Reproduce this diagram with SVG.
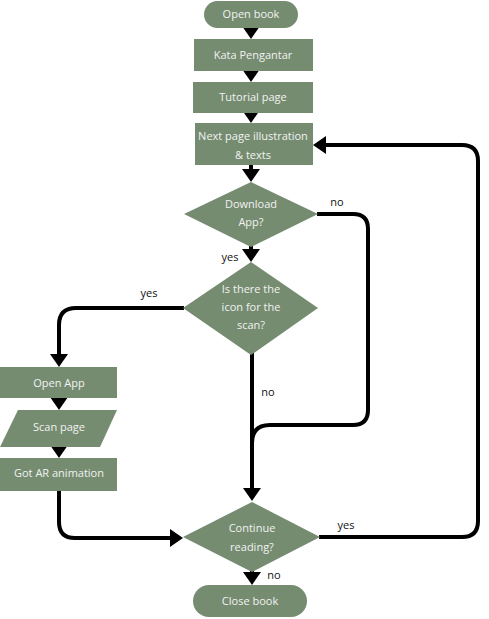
<svg xmlns="http://www.w3.org/2000/svg" width="489" height="619" viewBox="0 0 489 619">
<style>
.n{fill:#758c70}
.t{fill:#f2f2f2;font-family:"Open Sans","Liberation Sans",sans-serif;font-size:11px;text-anchor:middle}
.l{fill:#111;font-family:"Open Sans","Liberation Sans",sans-serif;font-size:11px;text-anchor:middle}
.c{fill:none;stroke:#000;stroke-width:4}
</style>
<defs>
<marker id="a" viewBox="0 0 13 18" markerWidth="13" markerHeight="18" refX="1" refY="9" orient="auto" markerUnits="userSpaceOnUse">
<path d="M0,0 L13,9 L0,18 z" fill="#000"/>
</marker>
</defs>
<rect width="489" height="619" fill="#fff"/>
<g id="connectors">
<path class="c" d="M251,20 V27" marker-end="url(#a)"/>
<path class="c" d="M251,62 V70" marker-end="url(#a)"/>
<path class="c" d="M251,104 V111" marker-end="url(#a)"/>
<path class="c" d="M251,160 V170" marker-end="url(#a)"/>
<path class="c" d="M251,240 V250" marker-end="url(#a)"/>
<path class="c" d="M252,350 V489" marker-end="url(#a)"/>
<path class="c" d="M252,565 V573" marker-end="url(#a)"/>
<path class="c" d="M317,214 H353 Q368,214 368,229 V410 Q368,425 353,425 H270 Q252,425 252,443"/>
<path class="c" d="M184,308 H76 Q59,308 59,325 V355" marker-end="url(#a)"/>
<path class="c" d="M59,390 V398" marker-end="url(#a)"/>
<path class="c" d="M59,440 V446" marker-end="url(#a)"/>
<path class="c" d="M59,485 V522 Q59,538 75,538 H171" marker-end="url(#a)"/>
<path class="c" d="M319,537 H462 Q478,537 478,521 V161 Q478,145 462,145 H325" marker-end="url(#a)"/>
</g>
<g class="l">
<text x="337" y="206">no</text>
<text x="230" y="261">yes</text>
<text x="149" y="297">yes</text>
<text x="268" y="396">no</text>
<text x="346" y="529">yes</text>
<text x="274" y="579">no</text>
</g>
<g id="open-book"><rect class="n" x="204" y="1" width="94" height="27" rx="13.5"/><text class="t" x="251" y="18">Open book</text></g>
<g id="kata-pengantar"><rect class="n" x="194" y="39" width="119" height="32"/><text class="t" x="253" y="59">Kata Pengantar</text></g>
<g id="tutorial-page"><rect class="n" x="193" y="82" width="120" height="31"/><text class="t" x="253" y="101">Tutorial page</text></g>
<g id="next-page"><rect class="n" x="195" y="123" width="118" height="42"/><text class="t" x="253" y="140">Next page illustration</text><text class="t" x="253" y="159">&amp; texts</text></g>
<g id="download-app"><polygon class="n" points="251,182 318,214 251,247 184,214"/><text class="t" x="251" y="208">Download</text><text class="t" x="251" y="226">App?</text></g>
<g id="icon-scan"><polygon class="n" points="251,262 318,308 251,355 183,308"/><text class="t" x="251" y="293">Is there the</text><text class="t" x="251" y="311">icon for the</text><text class="t" x="251" y="329">scan?</text></g>
<g id="open-app"><rect class="n" x="0" y="367" width="117" height="31"/><text class="t" x="59" y="387">Open App</text></g>
<g id="scan-page"><polygon class="n" points="18,410 117,410 100,447 0,447"/><text class="t" x="59" y="431">Scan page</text></g>
<g id="got-ar"><rect class="n" x="0" y="458" width="117" height="33"/><text class="t" x="59" y="477">Got AR animation</text></g>
<g id="continue-reading"><polygon class="n" points="252,502 320,537 252,572 183,537"/><text class="t" x="252" y="532">Continue</text><text class="t" x="252" y="551">reading?</text></g>
<g id="close-book"><rect class="n" x="193" y="585" width="114" height="32" rx="16"/><text class="t" x="250" y="605">Close book</text></g>
</svg>
